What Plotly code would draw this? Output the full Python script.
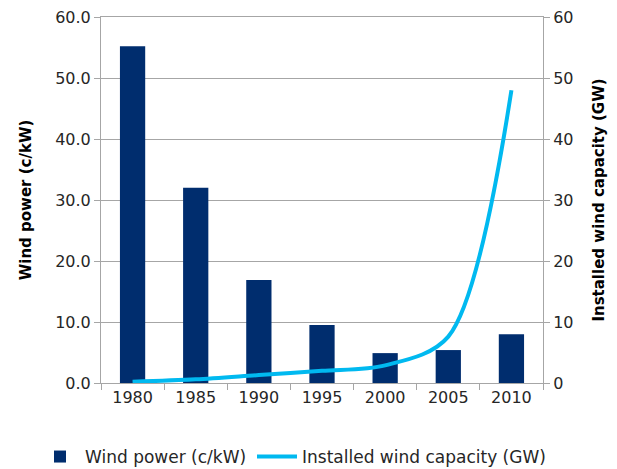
import plotly.graph_objects as go

years = ["1980", "1985", "1990", "1995", "2000", "2005", "2010"]
wind_power = [55.2, 32.0, 16.9, 9.5, 4.9, 5.4, 8.0]
capacity = [0.2, 0.6, 1.3, 2.0, 2.9, 7.6, 48.0]

bar_color = "#002D6E"
line_color = "#00B9F0"
grid_color = "#A6A6A6"
font_family = "DejaVu Sans"

fig = go.Figure()
fig.add_trace(go.Bar(
    x=years, y=wind_power, name="Wind power (c/kW)",
    marker=dict(color=bar_color, line=dict(width=0)),
    width=0.4, yaxis="y", legend="legend",
))
fig.add_trace(go.Scatter(
    x=years, y=capacity, name="Installed wind capacity (GW)",
    mode="lines", line=dict(color=line_color, width=4, shape="spline", smoothing=0.9),
    yaxis="y2", legend="legend2",
))

legend_common = dict(orientation="h", xref="container", yref="container",
                     xanchor="left", y=0.064, yanchor="top",
                     font=dict(size=17, color="#262626"),
                     itemwidth=40, bgcolor="rgba(0,0,0,0)")

fig.update_layout(
    width=617, height=469,
    margin=dict(l=101, r=74, t=17, b=86, autoexpand=False),
    paper_bgcolor="white", plot_bgcolor="white",
    font=dict(family=font_family, size=16, color="#262626"),
    showlegend=True,
    legend=dict(legend_common, x=35 / 617),
    legend2=dict(legend_common, x=252 / 617),
    xaxis=dict(
        type="category", showline=True, linecolor=grid_color, linewidth=1, mirror=True,
        ticks="outside", ticklen=6, tickcolor=grid_color, tickson="boundaries",
        showgrid=False, tickfont=dict(size=16),
    ),
    yaxis=dict(
        range=[0, 60], dtick=10, tickformat=".1f",
        showline=True, linecolor=grid_color, linewidth=1,
        ticks="outside", ticklen=6, tickcolor=grid_color,
        showgrid=True, gridcolor=grid_color, gridwidth=1,
        zeroline=False, tickfont=dict(size=16),
        title=dict(text="<b>Wind power (c/kW)</b>", font=dict(size=15, color="#000000"), standoff=19),
    ),
    yaxis2=dict(
        range=[0, 60], dtick=10, overlaying="y", side="right",
        showline=True, linecolor=grid_color, linewidth=1,
        ticks="outside", ticklen=6, tickcolor=grid_color,
        showgrid=False, zeroline=False, tickfont=dict(size=16),
        title=dict(text="<b>Installed wind capacity (GW)</b>", font=dict(size=15, color="#000000"), standoff=20),
    ),
)

fig.write_html("out.html")
